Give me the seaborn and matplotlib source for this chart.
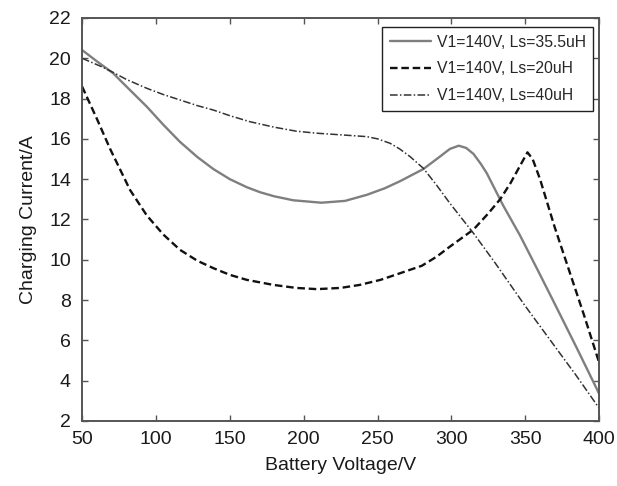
import numpy as np
import pandas as pd
import matplotlib
matplotlib.use("Agg")
import matplotlib.pyplot as plt
import seaborn as sns

# V1=140V, Ls=35.5uH (solid grey)
v_355 = [50, 60, 71, 80, 93.8, 105, 116.3, 128, 138.9, 150, 161.5, 170.5, 180,
         193, 212, 228, 242.7, 255, 265.3, 281, 291, 299, 305, 310, 315, 320,
         324, 335, 346.5, 358, 369, 385, 400]
i_355 = [20.41, 19.85, 19.26, 18.6, 17.6, 16.7, 15.85, 15.1, 14.5, 14.0, 13.6,
         13.35, 13.15, 12.95, 12.83, 12.92, 13.22, 13.55, 13.9, 14.5, 15.05,
         15.5, 15.66, 15.55, 15.25, 14.75, 14.29, 12.7, 11.2, 9.55, 7.95, 5.6, 3.35]

# V1=140V, Ls=20uH (dashed black)
v_20 = [50, 60, 69, 82.5, 93.8, 105, 116.3, 128, 138.9, 150, 161.5, 179.5, 195,
        209, 225, 238, 252, 265.3, 280, 290, 299, 315, 325, 333, 340, 346,
        351.5, 355, 360, 370, 380, 390, 400]
i_20 = [18.6, 17.0, 15.5, 13.46, 12.2, 11.25, 10.49, 9.95, 9.58, 9.25, 9.0, 8.75,
        8.6, 8.54, 8.6, 8.75, 9.0, 9.33, 9.7, 10.15, 10.65, 11.5, 12.3, 13.0,
        13.8, 14.6, 15.33, 15.0, 14.0, 11.6, 9.4, 7.2, 4.9]

# V1=140V, Ls=40uH (dash-dot)
v_40 = [50, 63.3, 71, 80, 93.8, 105, 116.3, 128, 138.9, 150, 163.7, 180, 195,
        208.9, 225, 242.7, 250, 258.5, 265, 272, 281, 290, 299, 315, 330, 350,
        370, 385, 400]
i_40 = [20.0, 19.58, 19.3, 18.95, 18.51, 18.2, 17.93, 17.65, 17.43, 17.15, 16.85,
        16.58, 16.38, 16.28, 16.2, 16.11, 16.0, 15.78, 15.5, 15.12, 14.54, 13.7,
        12.8, 11.31, 9.8, 7.7, 5.7, 4.2, 2.63]

labels = ["V1=140V, Ls=35.5uH", "V1=140V, Ls=20uH", "V1=140V, Ls=40uH"]

x_ticks = [50, 100, 150, 200, 250, 300, 350, 400]
y_ticks = [2, 4, 6, 8, 10, 12, 14, 16, 18, 20, 22]

sns.set_style("ticks")
plt.rcParams["font.family"] = ["Liberation Sans", "DejaVu Sans"]

fig = plt.figure(figsize=(6.17, 4.86), dpi=100)
ax = fig.add_axes([0.133, 0.134, 0.838, 0.829])

series = [
    (v_355, i_355, "#7f7f7f", "-", 1.7),
    (v_20, i_20, "#111111", (0, (3.2, 1.6)), 1.7),
    (v_40, i_40, "#333333", (0, (5, 1.5, 1, 1.5)), 1.1),
]
for (x, y, color, ls, lw), name in zip(series, labels):
    sns.lineplot(x=x, y=y, ax=ax, color=color, linestyle=ls, linewidth=lw,
                 label=name, sort=False, estimator=None)

ax.set_xlim(50, 400)
ax.set_ylim(2, 22)
ax.set_xticks(x_ticks)
ax.set_yticks(y_ticks)
ax.tick_params(direction="in", top=True, right=True, length=4, width=1,
               color="#555555", labelsize=14, labelcolor="#1a1a1a")
ax.tick_params(axis="y", pad=8)
ax.tick_params(axis="x", pad=7)
for s in ax.spines.values():
    s.set_color("#555555")
    s.set_linewidth(1.4)

ax.set_xlabel("Battery Voltage/V", fontsize=14, color="#1a1a1a", labelpad=7)
ax.set_ylabel("Charging Current/A", fontsize=14, color="#1a1a1a", labelpad=9)

leg = ax.legend(loc="upper right", bbox_to_anchor=(0.989, 0.978), fontsize=11.3,
                frameon=True, fancybox=False, framealpha=1, edgecolor="#222222",
                handlelength=2.6, labelspacing=0.75, borderaxespad=0,
                handletextpad=0.35, borderpad=0.5)
leg.get_frame().set_linewidth(1.0)

fig.savefig("out.png", dpi=100)
